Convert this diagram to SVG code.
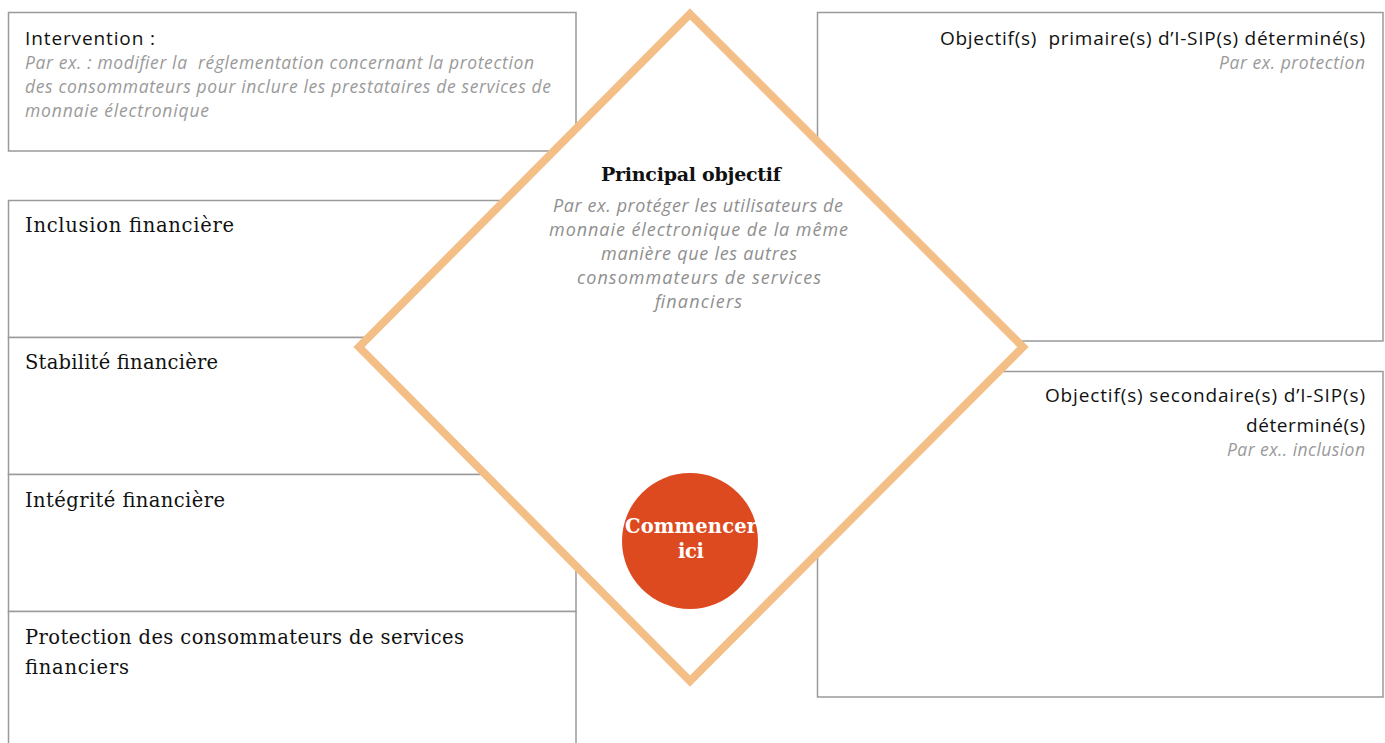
<svg xmlns="http://www.w3.org/2000/svg" width="1385" height="743" viewBox="0 0 1385 743">
<style>
.box{fill:#fff;stroke:#9a9a9a;stroke-width:1.5}
text{white-space:pre}
.sans{font-family:"Open Sans","Lato",sans-serif;font-size:19px;fill:#111}
.ex{font-family:"Open Sans","Lato",sans-serif;font-size:17.5px;font-style:italic;fill:#9a9a9a}
.slab{font-family:"DejaVu Serif","Liberation Serif",serif;font-size:19.5px;fill:#111}
.slabb{font-family:"DejaVu Serif","Liberation Serif",serif;font-size:19px;font-weight:bold;fill:#111}
.cex{font-family:"Open Sans","Lato",sans-serif;font-size:18px;font-style:italic;fill:#8f8f8f}
.white{font-family:"DejaVu Serif","Liberation Serif",serif;font-size:19.5px;font-weight:bold;fill:#fff}
</style>
<g id="intervention">
<rect class="box" x="8.5" y="12.5" width="567.5" height="138.5"/>
<text class="sans" x="25" y="45" textLength="130">Intervention :</text>
<text class="ex" x="25" y="69" textLength="509" xml:space="preserve">Par ex. : modifier la  réglementation concernant la protection</text>
<text class="ex" x="25" y="93" textLength="526">des consommateurs pour inclure les prestataires de services de</text>
<text class="ex" x="25" y="117" textLength="184">monnaie électronique</text>
</g>
<g id="inclusion">
<rect class="box" x="8.5" y="200.5" width="567.5" height="137"/>
<text class="slab" x="25" y="232" textLength="209">Inclusion financière</text>
</g>
<g id="stabilite">
<rect class="box" x="8.5" y="337.5" width="567.5" height="137"/>
<text class="slab" x="25" y="369" textLength="193">Stabilité financière</text>
</g>
<g id="integrite">
<rect class="box" x="8.5" y="474.5" width="567.5" height="137"/>
<text class="slab" x="25" y="507" textLength="200">Intégrité financière</text>
</g>
<g id="protection">
<rect class="box" x="8.5" y="611.5" width="567.5" height="140"/>
<text class="slab" x="25" y="644" textLength="439">Protection des consommateurs de services</text>
<text class="slab" x="25" y="674" textLength="104">financiers</text>
</g>
<g id="primaire">
<rect class="box" x="817.5" y="12.5" width="565.5" height="328.5"/>
<text class="sans" x="940" y="45" textLength="425" xml:space="preserve">Objectif(s)  primaire(s) d’I-SIP(s) déterminé(s)</text>
<text class="ex" x="1219" y="69" textLength="146">Par ex. protection</text>
</g>
<g id="secondaire">
<rect class="box" x="817.5" y="371.5" width="565.5" height="325.5"/>
<text class="sans" x="1045" y="402" textLength="320">Objectif(s) secondaire(s) d’I-SIP(s)</text>
<text class="sans" x="1246" y="432" textLength="119">déterminé(s)</text>
<text class="ex" x="1227" y="456" textLength="138">Par ex.. inclusion</text>
</g>
<g id="principal">
<polygon points="690,14 1023,347 690,681 359,347" fill="#fff" stroke="#F4BE87" stroke-width="8"/>
<text class="slabb" x="601" y="181" textLength="180">Principal objectif</text>
<text class="cex" x="553" y="212" textLength="290">Par ex. protéger les utilisateurs de</text>
<text class="cex" x="549" y="236" textLength="299">monnaie électronique de la même</text>
<text class="cex" x="601" y="260" textLength="196">manière que les autres</text>
<text class="cex" x="577" y="284" textLength="244">consommateurs de services</text>
<text class="cex" x="655" y="308" textLength="87">financiers</text>
</g>
<g id="commencer">
<circle cx="690" cy="541" r="68" fill="#DE4A20"/>
<text class="white" x="625" y="533" textLength="132">Commencer</text>
<text class="white" x="678" y="558" textLength="26">ici</text>
</g>
<g id="connectors"/>
</svg>
